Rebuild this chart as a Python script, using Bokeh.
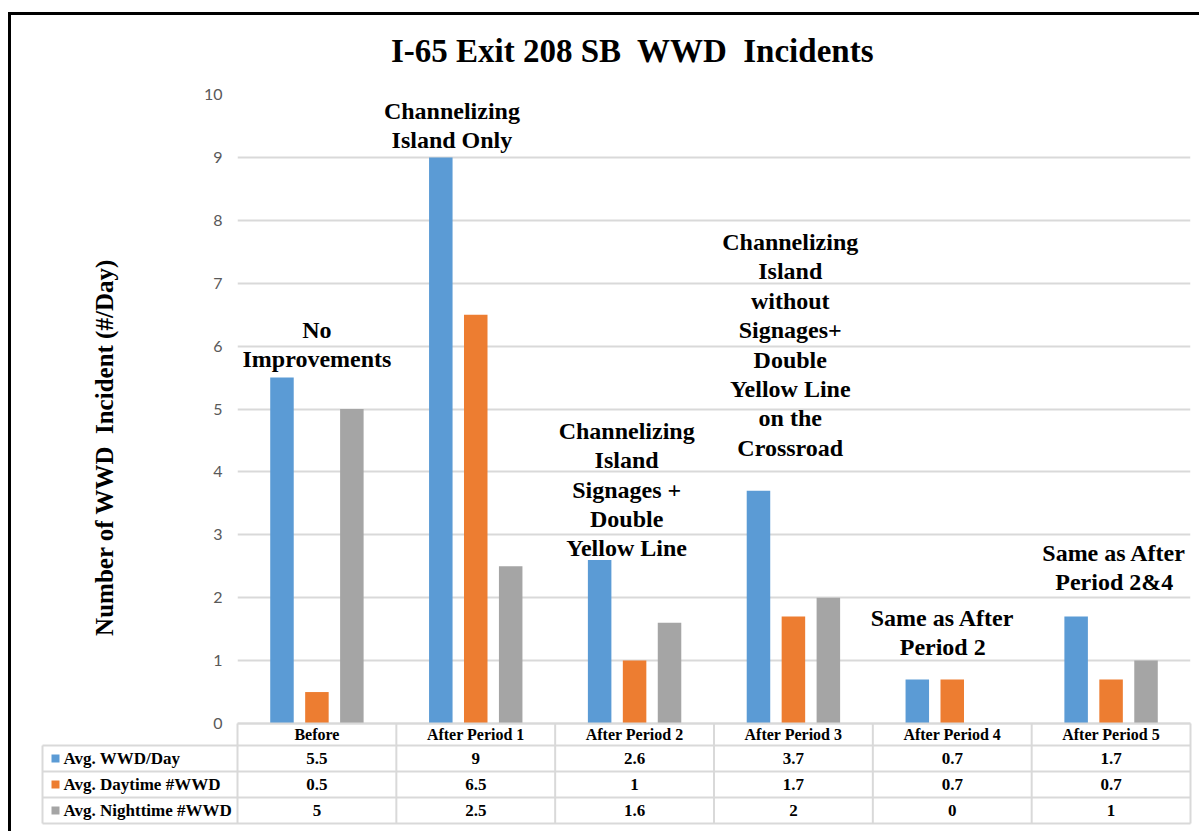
from bokeh.plotting import figure
from bokeh.models import Range1d, FixedTicker, ColumnDataSource
from bokeh.transform import dodge
from bokeh.layouts import column
from bokeh.core.properties import value
from bokeh.embed import file_html
from bokeh.resources import INLINE

# ---------------- data ----------------
categories = ["Before", "After Period 1", "After Period 2", "After Period 3",
              "After Period 4", "After Period 5"]
series_names = ["Avg. WWD/Day", "Avg. Daytime #WWD", "Avg. Nighttime #WWD"]
wwd_per_day = [5.5, 9, 2.6, 3.7, 0.7, 1.7]
daytime_wwd = [0.5, 6.5, 1, 1.7, 0.7, 0.7]
nighttime_wwd = [5, 2.5, 1.6, 2, 0, 1]
y_ticks = [0, 1, 2, 3, 4, 5, 6, 7, 8, 9, 10]
notes = ["No\nImprovements",
         "Channelizing\nIsland Only",
         "Channelizing\nIsland\nSignages +\nDouble\nYellow Line",
         "Channelizing\nIsland\nwithout\nSignages+\nDouble\nYellow Line\non the\nCrossroad",
         "Same as After\nPeriod 2",
         "Same as After\nPeriod 2&4"]
chart_title = "I-65 Exit 208 SB\u00a0 WWD\u00a0 Incidents"

# ---------------- layout / style ----------------
colors = ["#5B9BD5", "#ED7D31", "#A5A5A5"]
note_dx = [0.0, -0.15, -0.05, -0.02, -0.06, 0.02]      # annotation offsets (category units)
note_y = [6.03, 9.51, 3.72, 6.02, 1.45, 2.48]          # annotation centres (value units)
SERIF = value("Liberation Serif")
GRID = "#D9D9D9"

OX, OY = 11, 15            # content origin inside the page border
FRAME_L, FRAME_R = 237, 1190
FRAME_T, ZERO_Y = 94, 723
TOTAL_W, TOTAL_H = 1199, 831
W = TOTAL_W - OX
H = TOTAL_H - OY
n = len(categories)
CW = (FRAME_R - FRAME_L) / n
PX_PER_UNIT = (ZERO_Y - FRAME_T) / 10.0


def py2y(py):
    """page pixel row -> value units"""
    return (ZERO_Y - py) / PX_PER_UNIT


def px2x(px):
    """page pixel column -> category units (category i centred at i)"""
    return (px - FRAME_L) / CW - 0.5


p = figure(width=W, height=H, x_range=Range1d(-0.5, n - 0.5),
           y_range=Range1d(py2y(TOTAL_H), 10), output_backend="svg",
           toolbar_location=None,
           min_border_left=FRAME_L - OX, min_border_right=W - (FRAME_R - OX),
           min_border_top=FRAME_T - OY, min_border_bottom=0)
p.outline_line_color = None
p.xaxis.visible = False
p.xgrid.visible = False
p.ygrid.grid_line_color = GRID
p.ygrid.grid_line_width = 2
p.yaxis.ticker = FixedTicker(ticks=y_ticks)
p.ygrid.ticker = FixedTicker(ticks=y_ticks)
p.yaxis.axis_line_color = None
p.yaxis.major_tick_line_color = None
p.yaxis.minor_tick_line_color = None
p.yaxis.major_label_text_font = "Lato"
p.yaxis.major_label_text_font_size = "16px"
p.yaxis.major_label_text_color = "#595959"
p.yaxis.major_label_standoff = 9
p.yaxis.axis_label = "\u00a0" * 5 + "Number of WWD\u00a0 Incident (#/Day)"
p.yaxis.axis_label_text_font = "Liberation Serif"
p.yaxis.axis_label_text_font_style = "bold"
p.yaxis.axis_label_text_font_size = "25px"
p.yaxis.axis_label_text_color = "#000000"
p.yaxis.axis_label_standoff = 83

# title, drawn above the top of the value axis
p.text(x=[px2x(632)], y=[py2y(50)], text=[chart_title], text_align="center",
       text_baseline="middle", text_font=SERIF, text_font_style="bold",
       text_font_size="33px", text_color="#000000", level="overlay")

# ---------------- bars ----------------
src = ColumnDataSource(dict(x=list(range(n)), s0=wwd_per_day, s1=daytime_wwd,
                            s2=nighttime_wwd))
offsets = [-0.22, 0.0, 0.22]
for k, key in enumerate(["s0", "s1", "s2"]):
    p.vbar(x=dodge("x", offsets[k]), top=key, bottom=0, width=0.148,
           source=src, fill_color=colors[k], line_color=None)

note_src = ColumnDataSource(dict(x=[i + dx for i, dx in enumerate(note_dx)],
                                 y=note_y, t=notes))
p.text(x="x", y="y", text="t", source=note_src, text_font=SERIF,
       text_font_style="bold", text_font_size="24px", text_color="#000000",
       text_align="center", text_baseline="middle", text_line_height=1.13)

# ---------------- data table (below the value axis) ----------------
rows = [py2y(v) for v in (723, 745, 771, 797, 823)]
label_left = px2x(42)
right = n - 0.5
hx0 = [-0.5] + [label_left] * 4
vx = [-0.5 + k for k in range(n + 1)]
mid = [(rows[i] + rows[i + 1]) / 2 for i in range(4)]
cx = list(range(n))

p.segment(x0=hx0, y0=rows, x1=[right] * 5, y1=rows, line_color=GRID, line_width=2,
          level="overlay")
p.segment(x0=vx, y0=[rows[0]] * len(vx), x1=vx, y1=[rows[-1]] * len(vx),
          line_color=GRID, line_width=2, level="overlay")
p.segment(x0=[label_left], y0=[rows[1]], x1=[label_left], y1=[rows[-1]],
          line_color=GRID, line_width=2, level="overlay")

p.text(x=cx, y=[mid[0]] * n, text=categories, text_font=SERIF, text_font_style="bold",
       text_font_size="16px", text_color="#000000", text_align="center",
       text_baseline="middle")
for r, vals in enumerate([wwd_per_day, daytime_wwd, nighttime_wwd]):
    p.text(x=cx, y=[mid[r + 1]] * n, text=[f"{v:g}" for v in vals], text_font=SERIF,
           text_font_style="bold", text_font_size="17px", text_color="#000000",
           text_align="center", text_baseline="middle")
# legend keys (short thick segments = small squares)
p.segment(x0=[label_left + 9 / CW] * 3, y0=mid[1:], x1=[label_left + 17 / CW] * 3,
          y1=mid[1:], line_color=colors, line_width=8, line_cap="butt", level="overlay")
p.text(x=[label_left + 21 / CW] * 3, y=mid[1:], text=series_names, text_font=SERIF,
       text_font_style="bold", text_font_size="17px", text_color="#000000",
       text_align="left", text_baseline="middle", level="overlay")

layout = column(p, spacing=0,
                styles={"margin-left": "8px", "margin-top": "12px",
                        "border-left": "3px solid black", "border-top": "3px solid black"})

open("out.html", "w").write(file_html(layout, INLINE))
